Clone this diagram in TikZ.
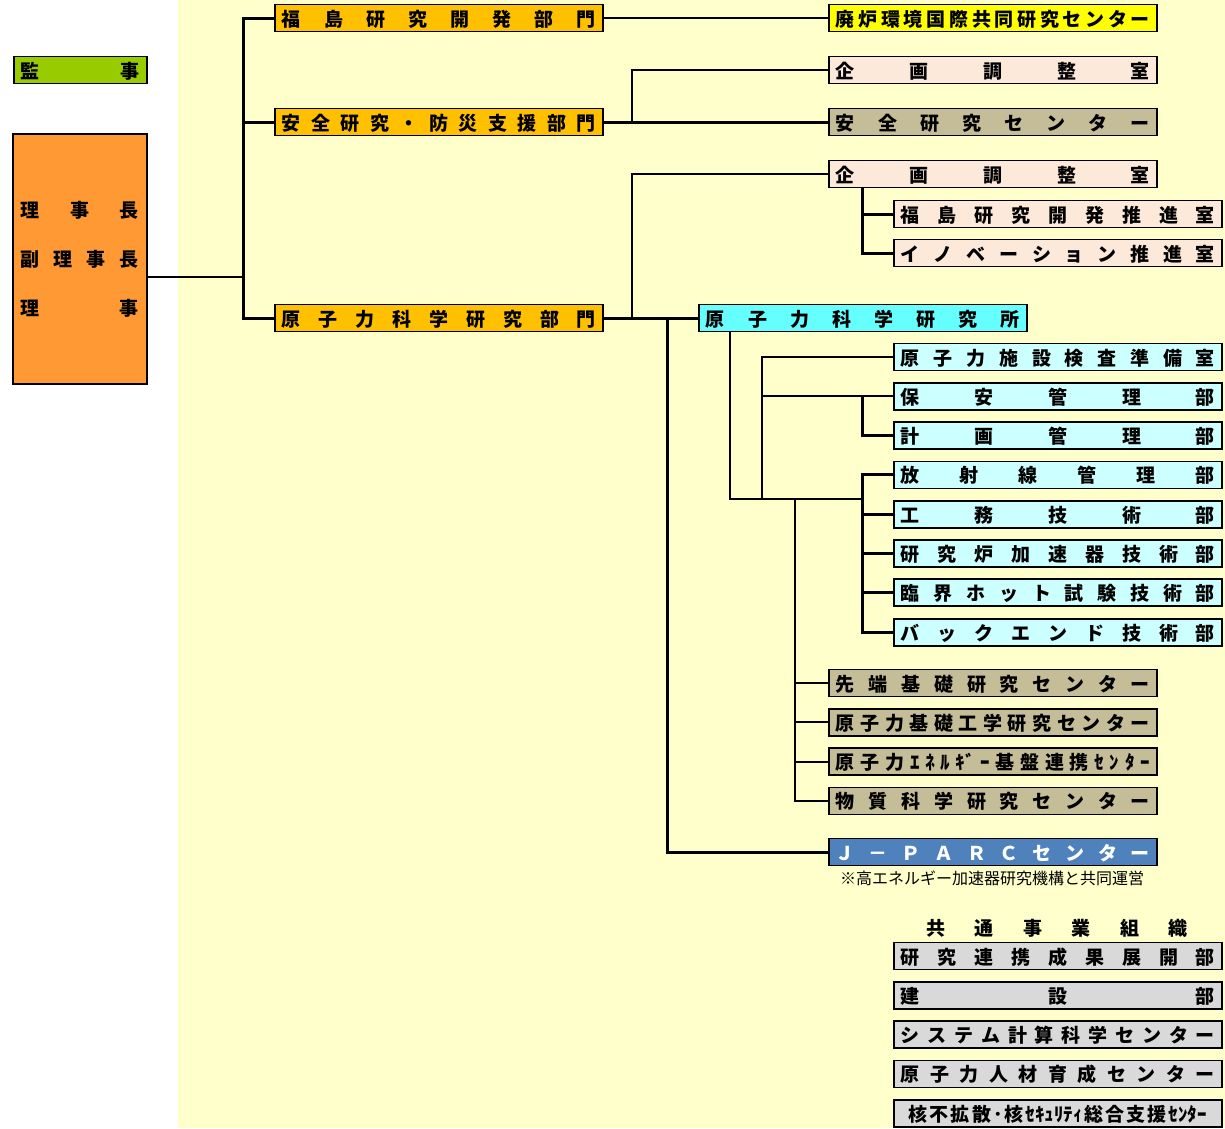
\documentclass[tikz,border=0pt]{standalone}
\usepackage{fontspec}
\newfontfamily\jpfont{Noto Sans CJK JP}
\usetikzlibrary{positioning,calc}
\definecolor{PaleYellow}{HTML}{FFFFCC}
\definecolor{AuditGreen}{HTML}{99CC00}
\definecolor{ChairOrange}{HTML}{FF9933}
\definecolor{DivGold}{HTML}{FFC000}
\definecolor{HaikoYellow}{HTML}{FFFF00}
\definecolor{PlanPink}{HTML}{FDE9D9}
\definecolor{CenterTan}{HTML}{C4BD97}
\definecolor{LabCyan}{HTML}{66FFFF}
\definecolor{SectCyan}{HTML}{CCFFFF}
\definecolor{JBlue}{HTML}{4F81BD}
\definecolor{CommonGray}{HTML}{D9D9D9}

\makeatletter
\newcommand\spreadtext[1]{\leavevmode\hbox to\linewidth{\let\sp@sep\relax\@tfor\sp@c:=#1\do{\sp@sep\sp@c\let\sp@sep\hfill}}}
\makeatother

\begin{document}
\begin{tikzpicture}[
    x=1pt, y=-1pt,
    node distance=10.5pt,
    unit/.style={
      rectangle, draw=black, line width=1.8pt, anchor=west,
      inner xsep=7pt, inner ysep=0pt, minimum height=27pt,
      text width=314pt, text height=17pt, text depth=1pt,
      font=\jpfont\bfseries\fontsize{19}{19}\selectfont
    },
    division/.style={unit, fill=DivGold},
    planning/.style={unit, fill=PlanPink},
    center/.style={unit, fill=CenterTan},
    section/.style={unit, fill=SectCyan},
    common/.style={unit, fill=CommonGray},
    link/.style={line width=2pt},
    boldlink/.style={line width=3pt}
  ]
    \useasboundingbox (0,0) rectangle (1225,1128);
    \fill[PaleYellow] (178,0) rectangle (1225,1128);

    \node[unit, fill=AuditGreen, text width=119pt] (audit) at (13,70) {\spreadtext{監事}};
    \node[rectangle, draw=black, line width=1.8pt, fill=ChairOrange, anchor=north west,
      text width=118pt, inner xsep=8pt, minimum height=250pt,
      font=\jpfont\bfseries\fontsize{19}{49}\selectfont] (chair) at (12,133)
      {\spreadtext{理事長}\\\spreadtext{副理事長}\\\spreadtext{理事}};

    \node[division] (fukushima) at (274,18) {\spreadtext{福島研究開発部門}};
    \node[division] (safety) at (274,122) {\spreadtext{安全研究・防災支援部門}};
    \node[division] (nuclear) at (274,318) {\spreadtext{原子力科学研究部門}};

    \node[unit, fill=HaikoYellow] (haiko) at (828,18) {\spreadtext{廃炉環境国際共同研究センター}};
    \node[planning] (plana) at (828,70) {\spreadtext{企画調整室}};
    \node[center] (safecenter) at (828,122) {\spreadtext{安全研究センター}};
    \node[planning] (planb) at (828,174) {\spreadtext{企画調整室}};
    \node[planning] (fkpromo) at (893,214) {\spreadtext{福島研究開発推進室}};
    \node[planning] (innov) at (893,253) {\spreadtext{イノベーション推進室}};

    \node[unit, fill=LabCyan] (lab) at (698,318) {\spreadtext{原子力科学研究所}};
    \node[section] (insp) at (893,357) {\spreadtext{原子力施設検査準備室}};
    \node[section, below=of insp] (hoan) {\spreadtext{保安管理部}};
    \node[section, below=of hoan] (keikaku) {\spreadtext{計画管理部}};
    \node[section, below=of keikaku] (radiation) {\spreadtext{放射線管理部}};
    \node[section, below=of radiation] (koumu) {\spreadtext{工務技術部}};
    \node[section, below=of koumu] (reactor) {\spreadtext{研究炉加速器技術部}};
    \node[section, below=of reactor] (hotlab) {\spreadtext{臨界ホット試験技術部}};
    \node[section, below=of hotlab] (backend) {\spreadtext{バックエンド技術部}};

    \node[center] (asrc) at (828,683) {\spreadtext{先端基礎研究センター}};
    \node[center, below=of asrc] (nserc) {\spreadtext{原子力基礎工学研究センター}};
    \node[center, below=of nserc] (energy) {\spreadtext{原子力ｴﾈﾙ{ｷﾞ}ｰ基盤連携ｾﾝﾀｰ}};
    \node[center, below=of energy] (msrc) {\spreadtext{物質科学研究センター}};

    \node[unit, fill=JBlue, text=white] (jparc) at (828,852) {\spreadtext{Ｊ－ＰＡＲＣセンター}};
    \node[anchor=north, inner sep=0pt, font=\jpfont\fontsize{16}{16}\selectfont] (jnote)
      at (992,871) {※高エネルギー加速器研究機構と共同運営};

    \node[inner sep=0pt, text width=261pt, font=\jpfont\bfseries\fontsize{19}{19}\selectfont]
      (commontitle) at (1057,928) {\spreadtext{共通事業組織}};
    \node[common] (renkei) at (893,956) {\spreadtext{研究連携成果展開部}};
    \node[common, below=of renkei] (kensetsu) {\spreadtext{建設部}};
    \node[common, below=of kensetsu] (ccse) {\spreadtext{システム計算科学センター}};
    \node[common, below=of ccse] (hrd) {\spreadtext{原子力人材育成センター}};
    \node[common, below=of hrd, inner xsep=15pt, text width=298pt] (isens)
      {\spreadtext{核不拡散･核{ｾｷｭﾘﾃｨ}総合支援{ｾﾝﾀｰ}}};

    \coordinate (hub) at (243,277);
    \coordinate (safesplit) at (632,122);
    \coordinate (nucsplit) at (632,318);
    \coordinate (jsplit) at (667,318);
    \coordinate (planstem) at (862,188);
    \coordinate (labstem) at (730,332);
    \coordinate (sbus) at (762,499);
    \coordinate (dbus) at (862,499);
    \coordinate (cbus) at (795,499);
    \coordinate (hoanstem) at (862,396);

    \draw[link] (chair.east |- hub) -- (hub);
    \draw[boldlink] (fukushima.west) -| (hub) |- (nuclear.west);
    \draw[boldlink] (safety.west) -- (safety.west -| hub);

    \draw[link] (fukushima.east) -- (haiko.west);
    \draw[boldlink] (safety.east) -- (safecenter.west);
    \draw[link] (safesplit) |- (plana.west);
    \draw[boldlink] (nuclear.east) -- (lab.west);
    \draw[link] (nucsplit) |- (planb.west);
    \draw[boldlink] (jsplit) |- (jparc.west);
    \draw[boldlink] (planstem) |- (fkpromo.west);
    \draw[boldlink] (planstem) |- (innov.west);

    \draw[link] (labstem) |- (dbus);
    \draw[link] (sbus) |- (insp.west);
    \draw[link] (sbus) |- (hoan.west);
    \draw[boldlink] (hoanstem) |- (keikaku.west);
    \draw[boldlink] (dbus) |- (radiation.west);
    \draw[boldlink] (dbus) |- (koumu.west);
    \draw[boldlink] (dbus) |- (reactor.west);
    \draw[boldlink] (dbus) |- (hotlab.west);
    \draw[boldlink] (dbus) |- (backend.west);
    \draw[link] (cbus) |- (asrc.west);
    \draw[link] (cbus) |- (nserc.west);
    \draw[link] (cbus) |- (energy.west);
    \draw[link] (cbus) |- (msrc.west);
  \end{tikzpicture}
\end{document}
